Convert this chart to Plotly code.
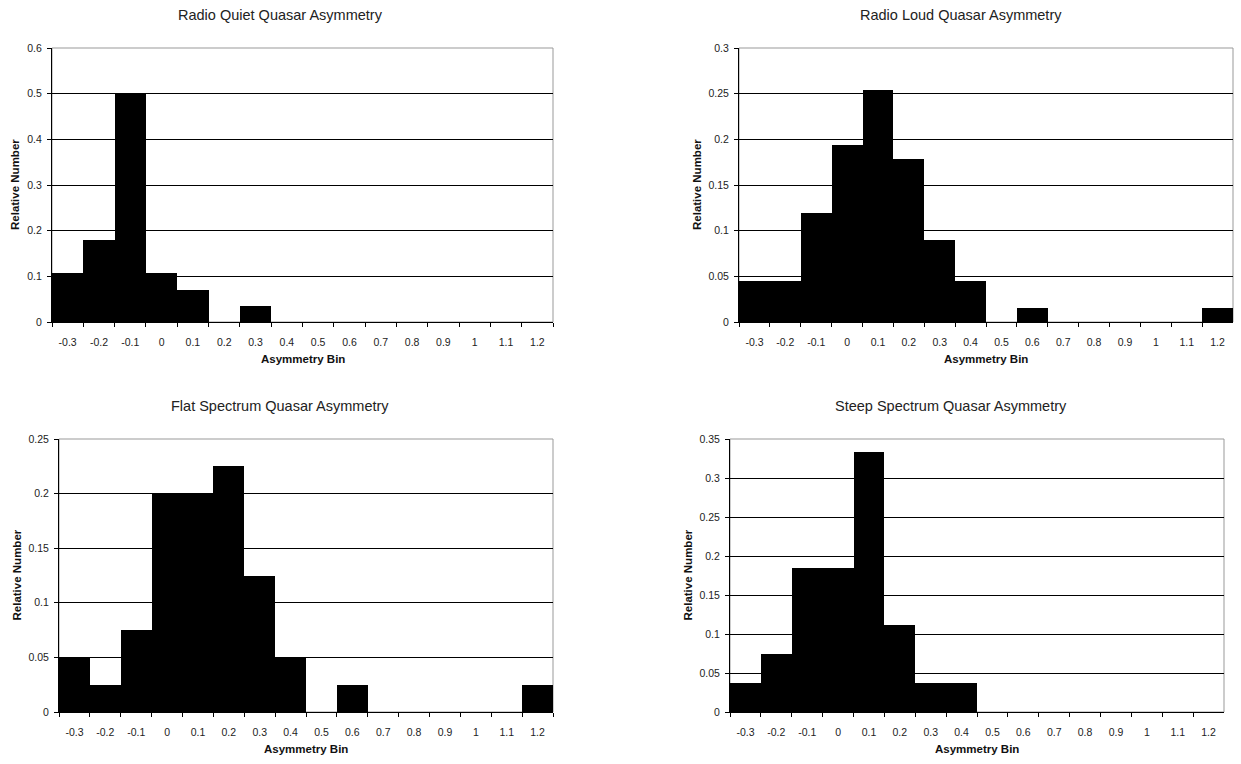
import plotly.graph_objects as go

bins = ["-0.3", "-0.2", "-0.1", "0", "0.1", "0.2", "0.3", "0.4", "0.5",
        "0.6", "0.7", "0.8", "0.9", "1", "1.1", "1.2"]

radio_quiet = [0.107, 0.179, 0.5, 0.107, 0.071, 0, 0.036, 0, 0, 0, 0, 0, 0, 0, 0, 0]
radio_loud = [0.045, 0.045, 0.119, 0.194, 0.254, 0.179, 0.090, 0.045, 0, 0.015, 0, 0, 0, 0, 0, 0.015]
flat_spec = [0.05, 0.025, 0.075, 0.2, 0.2, 0.225, 0.125, 0.05, 0, 0.025, 0, 0, 0, 0, 0, 0.025]
steep_spec = [0.037, 0.074, 0.185, 0.185, 0.333, 0.111, 0.037, 0.037, 0, 0, 0, 0, 0, 0, 0, 0]

titles = ["Radio Quiet Quasar Asymmetry", "Radio Loud Quasar Asymmetry",
          "Flat Spectrum Quasar Asymmetry", "Steep Spectrum Quasar Asymmetry"]
y_max = [0.6, 0.3, 0.25, 0.35]
y_step = [0.1, 0.05, 0.05, 0.05]

W, H = 1241, 764
# plot areas in pixels: (left, right, top, bottom)
boxes = [(52, 553, 48, 322), (739, 1233, 48, 322), (59, 553, 439, 712), (730, 1224, 439, 712)]
title_centers = [(280, 15), (961, 15), (280, 406), (951, 406)]
ytitle_x = [15, 697, 16, 687]

series = [radio_quiet, radio_loud, flat_spec, steep_spec]

fig = go.Figure()
FONT = "Liberation Sans, Arial, sans-serif"

annotations = []
shapes = []
for i, vals in enumerate(series):
    k = "" if i == 0 else str(i + 1)
    xa, ya = "x" + k, "y" + k
    fig.add_trace(go.Bar(x=bins, y=vals, xaxis=xa, yaxis=ya,
                         marker=dict(color="black", line=dict(width=0)),
                         showlegend=False, hoverinfo="x+y"))
    l, r, t, b = boxes[i]
    xd = [l / W, r / W]
    yd = [1 - b / H, 1 - t / H]
    fig.layout["xaxis" + k] = dict(
        domain=xd, anchor=ya, type="category", tickson="boundaries",
        ticks="outside", ticklen=4, tickcolor="black", tickwidth=1,
        showline=True, linecolor="black", linewidth=1, ticklabelstandoff=10,
        showgrid=False, tickfont=dict(size=10.5, color="#222", family=FONT),
        range=[-0.5, 15.5], fixedrange=True, automargin=False)
    fig.layout["yaxis" + k] = dict(
        domain=yd, anchor=xa, range=[0, y_max[i]], dtick=y_step[i], tick0=0,
        ticks="outside", ticklen=4, tickcolor="black", tickwidth=1,
        showline=True, linecolor="black", linewidth=1, ticklabelstandoff=3,
        showgrid=True, gridcolor="black", gridwidth=1, zeroline=False,
        tickfont=dict(size=10.5, color="#222", family=FONT), fixedrange=True,
        automargin=False)
    # gray plot-area border (top/right)
    shapes.append(dict(type="rect", xref="paper", yref="paper",
                       x0=xd[0], x1=xd[1], y0=yd[0], y1=yd[1],
                       line=dict(color="#999", width=1), layer="below"))
    cx, cy = title_centers[i]
    annotations.append(dict(text=titles[i], x=cx / W, y=1 - cy / H, xref="paper", yref="paper",
                            showarrow=False, xanchor="center", yanchor="middle",
                            font=dict(size=14.5, color="#222", family=FONT)))
    annotations.append(dict(text="<b>Asymmetry Bin</b>", x=(l + r) / 2 / W, y=1 - (b + 37) / H,
                            xref="paper", yref="paper", showarrow=False,
                            xanchor="center", yanchor="middle",
                            font=dict(size=11.5, color="#111", family=FONT)))
    annotations.append(dict(text="<b>Relative Number</b>", x=ytitle_x[i] / W, y=1 - (t + b) / 2 / H,
                            xref="paper", yref="paper", showarrow=False, textangle=-90,
                            xanchor="center", yanchor="middle",
                            font=dict(size=11.5, color="#111", family=FONT)))

fig.update_layout(width=W, height=H, margin=dict(l=0, r=0, t=0, b=0),
                  paper_bgcolor="white", plot_bgcolor="white",
                  bargap=0, annotations=annotations, shapes=shapes,
                  font=dict(family=FONT))

fig.write_html("out.html", config={"displayModeBar": False},
               post_script="document.body.style.margin='0';")
